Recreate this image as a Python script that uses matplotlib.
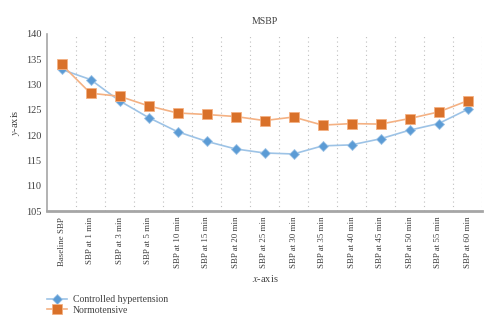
import numpy as np
import matplotlib
matplotlib.use("Agg")
import matplotlib.pyplot as plt
from matplotlib.ticker import MultipleLocator, FixedLocator

plt.rcParams['font.family'] = ['Liberation Serif', 'DejaVu Serif']
plt.rcParams['mathtext.fontset'] = 'stix'

LABELS = ['Baseline SBP', 'SBP at 1 min', 'SBP at 3 min', 'SBP at 5 min',
          'SBP at 10 min', 'SBP at 15 min', 'SBP at 20 min', 'SBP at 25 min',
          'SBP at 30 min', 'SBP at 35 min', 'SBP at 40 min', 'SBP at 45 min',
          'SBP at 50 min', 'SBP at 55 min', 'SBP at 60 min']
CONTROLLED = [133.0, 131.0, 126.8, 123.5, 120.7, 118.8, 117.3, 116.5,
              116.3, 117.9, 118.1, 119.3, 121.0, 122.3, 125.1]
NORMO = [134.0, 128.3, 127.7, 125.8, 124.4, 124.1, 123.7, 122.9,
         123.6, 122.0, 122.3, 122.2, 123.3, 124.6, 126.8]

fig = plt.figure(figsize=(5, 3.3), dpi=100)
ax = fig.add_axes([0.094, 0.36, 0.87, 0.537])

x = np.arange(len(LABELS))
ax.plot(x, CONTROLLED, color='#9DC3E6', lw=1.2, marker='D', ms=5.5,
        mfc='#5B9BD5', mec='#9DC3E6', mew=0.6, label='Controlled hypertension', zorder=3)
ax.plot(x, NORMO, color='#F4B183', lw=1.2, marker='s', ms=7,
        mfc='#D9712A', mec='#F4B183', mew=0.6, label='Normotensive', zorder=3)

ax.set_xlim(-0.5, len(LABELS) - 0.5)
ax.set_ylim(105, 140)
ax.yaxis.set_major_locator(MultipleLocator(5))
ax.set_xticks(x)
ax.set_xticklabels(LABELS, rotation=90, fontsize=6.4, color='#404040')
ax.xaxis.set_minor_locator(FixedLocator(np.arange(0.5, len(LABELS), 1.0)))
ax.grid(True, which='minor', axis='x', color='#BFBFBF', ls=(0, (1, 3)), lw=0.8)
ax.tick_params(axis='both', which='both', length=0)
ax.tick_params(axis='y', labelsize=7.5, labelcolor='#404040', pad=4)
ax.tick_params(axis='x', pad=4)

for s in ['top', 'right']:
    ax.spines[s].set_visible(False)
ax.spines['left'].set_color('#A6A6A6')
ax.spines['left'].set_linewidth(1.2)
ax.spines['bottom'].set_color('#A6A6A6')
ax.spines['bottom'].set_linewidth(2)

ax.set_title('MSBP', fontsize=7, color='#404040', pad=7)
ax.set_ylabel('$y$-axis', fontsize=7.5, color='#404040', labelpad=3)
fig.text(0.53, 0.155, '$x$-axis', fontsize=7.5, color='#404040', ha='center', va='center')

fig.legend(loc='upper left', bbox_to_anchor=(0.085, 0.12), frameon=False,
           fontsize=7, handlelength=2.0, handletextpad=0.6, labelspacing=0.15,
           borderpad=0, labelcolor='#404040')

fig.savefig('out.png', dpi=100)
